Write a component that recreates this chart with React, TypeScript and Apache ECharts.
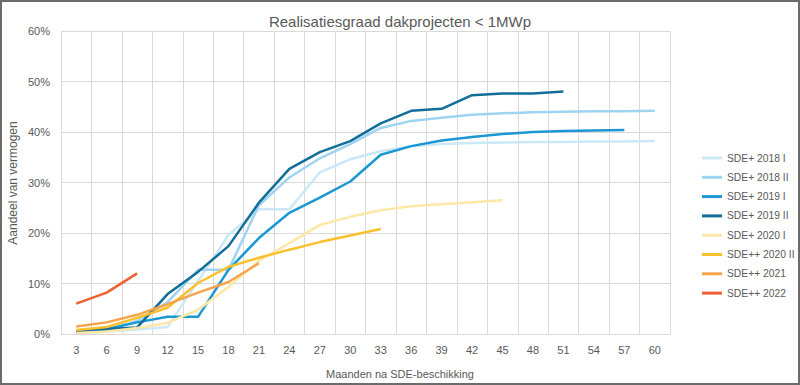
import React, { useEffect, useRef } from "react";
import * as echarts from "echarts";

const months = ["3","6","9","12","15","18","21","24","27","30","33","36","39","42","45","48","51","54","57","60"];
const yTicks = [0, 10, 20, 30, 40, 50, 60];

const sde2018I = [0.2, 0.5, 0.9, 1.4, 10.5, 19.6, 24.7, 24.7, 32.0, 34.6, 36.2, 37.2, 37.6, 37.8, 37.9, 38.0, 38.0, 38.1, 38.1, 38.2];
const sde2018II = [0.3, 0.8, 2.6, 6.3, 12.7, 12.7, 25.5, 31.0, 34.8, 37.6, 40.8, 42.2, 42.8, 43.4, 43.7, 43.9, 44.0, 44.1, 44.1, 44.2];
const sde2019I = [0.3, 1.0, 2.3, 3.4, 3.4, 12.7, 19.0, 24.0, 27.0, 30.2, 35.5, 37.2, 38.3, 39.0, 39.6, 40.0, 40.2, 40.3, 40.4];
const sde2019II = [0.5, 1.0, 1.3, 7.9, 12.3, 17.4, 26.0, 32.7, 36.0, 38.2, 41.7, 44.2, 44.6, 47.3, 47.6, 47.6, 48.0];
const sde2020I = [0.2, 0.5, 1.2, 2.2, 4.8, 9.3, 14.5, 18.0, 21.6, 23.2, 24.5, 25.3, 25.7, 26.1, 26.5];
const sde2020II = [0.8, 1.4, 3.2, 5.2, 10.1, 13.3, 15.1, 16.7, 18.2, 19.5, 20.8];
const sde2021 = [1.5, 2.3, 3.8, 5.9, 8.2, 10.3, 14.0];
const sde2022 = [6.0, 8.2, 12.0];

const seriesNames = ["SDE+ 2018 I", "SDE+ 2018 II", "SDE+ 2019 I", "SDE+ 2019 II", "SDE+ 2020 I", "SDE++ 2020 II", "SDE++ 2021", "SDE++ 2022"];
const seriesData = [sde2018I, sde2018II, sde2019I, sde2019II, sde2020I, sde2020II, sde2021, sde2022];
const seriesColors = ["#cce8f7", "#9fd4f1", "#1b98d3", "#136d99", "#fde7a6", "#fbc02d", "#f6a44a", "#ee6132"];

const FONT = "'Liberation Sans', Arial, sans-serif";
const GRAY = "#595959";

export default function App() {
  const ref = useRef<HTMLDivElement>(null);
  useEffect(() => {
    document.body.style.margin = "0";
    if (!ref.current) return;
    const chart = echarts.init(ref.current, undefined, { renderer: "svg" });
    chart.setOption({
      animation: false,
      backgroundColor: "#ffffff",
      textStyle: { fontFamily: FONT },
      title: {
        text: "Realisatiesgraad dakprojecten < 1MWp",
        left: "center",
        top: 9,
        textStyle: { fontFamily: FONT, fontSize: 15, fontWeight: "normal", color: GRAY },
      },
      grid: { left: 61, right: 130, top: 31, bottom: 51, containLabel: false },
      legend: {
        orient: "vertical",
        left: 697,
        top: 146,
        icon: "rect",
        itemWidth: 20,
        itemHeight: 3,
        itemGap: 5.3,
        data: seriesNames,
        textStyle: { fontFamily: FONT, fontSize: 10.3, color: GRAY, lineHeight: 14 },
      },
      xAxis: {
        type: "category",
        data: months,
        boundaryGap: true,
        axisLine: { show: true, lineStyle: { color: "#d9d9d9", width: 1 } },
        axisTick: { show: false },
        splitLine: { show: true, lineStyle: { color: "#d9d9d9", width: 1 } },
        axisLabel: { color: GRAY, fontSize: 11, fontFamily: FONT, margin: 10, interval: 0 },
      },
      yAxis: {
        type: "value",
        min: yTicks[0],
        max: yTicks[yTicks.length - 1],
        interval: 10,
        axisLine: { show: false },
        axisTick: { show: false },
        splitLine: { show: true, lineStyle: { color: "#d9d9d9", width: 1 } },
        axisLabel: { color: GRAY, fontSize: 11, fontFamily: FONT, margin: 11, formatter: (v: number) => v + "%" },
      },
      graphic: [
        {
          type: "rect",
          shape: { x: 1, y: 1, width: 798, height: 383 },
          style: { fill: "none", stroke: "#6b6b6b", lineWidth: 2 },
          silent: true,
        },
        {
          type: "text",
          x: 13,
          y: 183,
          rotation: Math.PI / 2,
          style: { text: "Aandeel van vermogen", fontSize: 12, fontFamily: FONT, fill: GRAY, align: "center", verticalAlign: "middle" },
        },
        {
          type: "text",
          x: 400,
          y: 374,
          style: { text: "Maanden na SDE-beschikking", fontSize: 11, fontFamily: FONT, fill: GRAY, align: "center", verticalAlign: "middle" },
        },
      ],
      series: seriesNames.map((name, i) => ({
        name,
        type: "line",
        data: seriesData[i],
        showSymbol: false,
        symbol: "none",
        color: seriesColors[i],
        lineStyle: { width: 2.5, color: seriesColors[i] },
        z: 2 + i,
      })),
    });
    return () => chart.dispose();
  }, []);
  return <div ref={ref} style={{ position: "absolute", left: 0, top: 0, width: 800, height: 385 }} />;
}
